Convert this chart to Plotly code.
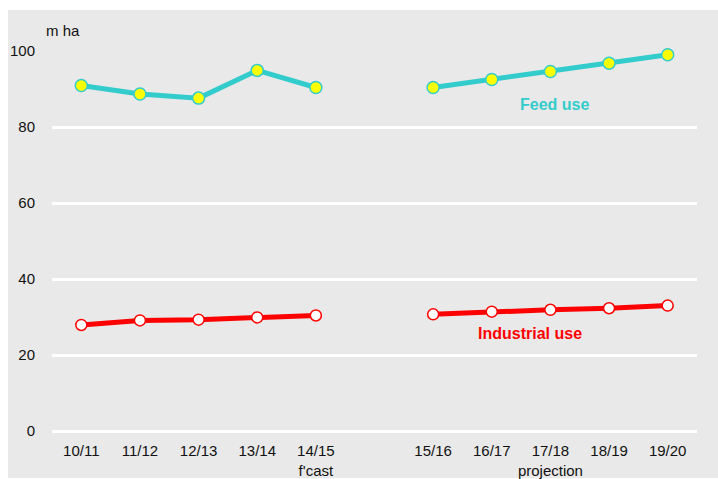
import plotly.graph_objects as go

categories = ["10/11", "11/12", "12/13", "13/14", "14/15", " ",
              "15/16", "16/17", "17/18", "18/19", "19/20"]
tick_labels = ["10/11", "11/12", "12/13", "13/14", "14/15<br>f'cast", "",
               "15/16", "16/17", "17/18<br>projection", "18/19", "19/20"]
feed_use = [90.9, 88.7, 87.6, 94.9, 90.4, None, 90.4, 92.5, 94.6, 96.8, 99.0]
industrial_use = [27.9, 29.1, 29.3, 29.9, 30.4, None, 30.7, 31.4, 31.9, 32.3, 33.0]
y_ticks = [0, 20, 40, 60, 80, 100]

FEED = "#33CCCC"
IND = "#FF0000"
FONT = "Liberation Sans, Arial, sans-serif"

fig = go.Figure()
fig.add_trace(go.Scatter(
    x=categories, y=feed_use, mode="lines+markers",
    line=dict(color=FEED, width=5),
    marker=dict(color="#FFFF00", size=12, line=dict(color=FEED, width=1.5)),
    connectgaps=False, cliponaxis=False, showlegend=False))
fig.add_trace(go.Scatter(
    x=categories, y=industrial_use, mode="lines+markers",
    line=dict(color=IND, width=5),
    marker=dict(color="#FFFFFF", size=11, line=dict(color=IND, width=1.5)),
    connectgaps=False, cliponaxis=False, showlegend=False))

fig.add_annotation(x="17/18", y=86, text="<b>Feed use</b>", showarrow=False,
                   xshift=4, font=dict(color=FEED, size=16, family=FONT))
fig.add_annotation(x="16/17", y=25.7, text="<b>Industrial use</b>", showarrow=False,
                   xshift=38, font=dict(color=IND, size=16, family=FONT))
fig.add_annotation(xref="paper", yref="paper", x=-0.012, y=1.026, text="m ha",
                   showarrow=False, xanchor="left", yanchor="bottom",
                   font=dict(color="#111111", size=15, family=FONT))

fig.add_shape(type="rect", xref="paper", yref="paper",
              x0=(8 - 52) / 645, x1=(718 - 52) / 645,
              y0=(431 - 478) / 380, y1=(431 - 10) / 380,
              fillcolor="#E9E9E9", line=dict(width=0), layer="below")

fig.update_layout(
    width=718, height=479,
    margin=dict(l=52, r=21, t=51, b=48, autoexpand=False),
    paper_bgcolor="white", plot_bgcolor="rgba(0,0,0,0)",
    font=dict(family=FONT, size=15, color="#111111"),
    xaxis=dict(type="category", categoryorder="array", categoryarray=categories,
               tickmode="array", tickvals=categories, ticktext=tick_labels,
               range=[-0.5, 10.5], showgrid=False, zeroline=False, showline=False,
               automargin=False,
               ticks="outside", ticklen=6, tickcolor="rgba(0,0,0,0)"),
    yaxis=dict(range=[0, 100], tickvals=y_ticks, showgrid=True,
               gridcolor="white", gridwidth=3, zeroline=True,
               zerolinecolor="white", zerolinewidth=3, showline=False,
               automargin=False,
               ticks="outside", ticklen=13, tickcolor="rgba(0,0,0,0)"),
)

fig.write_html("out.html")
